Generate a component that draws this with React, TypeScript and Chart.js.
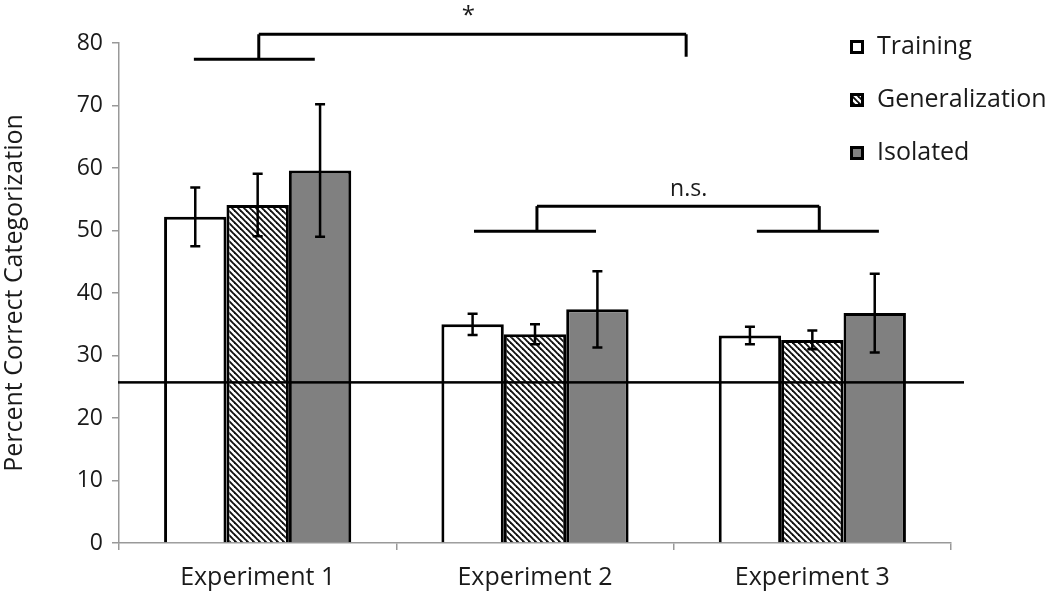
import React, { useEffect, useRef } from "react";
import { Chart, registerables } from "chart.js";

Chart.register(...registerables);

const categories = ["Experiment 1", "Experiment 2", "Experiment 3"];
const seriesLabels = ["Training", "Generalization", "Isolated"];
const training = [52.2, 35.0, 33.2];
const trainingErr = [4.7, 1.7, 1.4];
const generalization = [54.1, 33.4, 32.5];
const generalizationErr = [5.0, 1.6, 1.5];
const isolated = [59.6, 37.4, 36.8];
const isolatedErr = [10.6, 6.1, 6.3];
const chanceLevel = 25.7;
const yTicks = [0, 10, 20, 30, 40, 50, 60, 70, 80];

const FONT = "'Open Sans', 'Noto Sans', sans-serif";
const TEXT = "#1a1a1a";

function makeHatch(): CanvasPattern | string {
  const s = 6;
  const c = document.createElement("canvas");
  c.width = s;
  c.height = s;
  const g = c.getContext("2d");
  if (!g) return "#999";
  g.fillStyle = "#ffffff";
  g.fillRect(0, 0, s, s);
  g.strokeStyle = "#111";
  g.lineWidth = 1.9;
  for (let k = -1; k <= 1; k++) {
    g.beginPath();
    g.moveTo(k * s - 1, -1);
    g.lineTo(k * s + s + 1, s + 1);
    g.stroke();
  }
  const p = g.createPattern(c, "repeat");
  return p || "#999";
}

export default function App() {
  const ref = useRef<HTMLCanvasElement | null>(null);

  useEffect(() => {
    if (!ref.current) return;
    const hatch = makeHatch();
    const fills: any[] = ["#ffffff", hatch, "#808080"];
    const errs = [trainingErr, generalizationErr, isolatedErr];

    const overlay = {
      id: "overlay",
      afterDraw(chart: any) {
        const ctx = chart.ctx;
        const xs = chart.scales.x;
        const ys = chart.scales.y;
        const cw = xs.getPixelForValue(1) - xs.getPixelForValue(0);
        const X = (v: number) => xs.getPixelForValue(0) + v * cw;
        const Y = (v: number) => ys.getPixelForValue(v);
        ctx.save();
        // error bars
        ctx.strokeStyle = "#000";
        ctx.lineWidth = 2.5;
        chart.data.datasets.forEach((ds: any, di: number) => {
          const meta = chart.getDatasetMeta(di);
          meta.data.forEach((el: any, i: number) => {
            const v = ds.data[i];
            const e = errs[di][i];
            const x = el.x;
            const yt = Y(v + e);
            const yb = Y(v - e);
            ctx.beginPath();
            ctx.moveTo(x, yt);
            ctx.lineTo(x, yb);
            ctx.moveTo(x - 5, yt);
            ctx.lineTo(x + 5, yt);
            ctx.moveTo(x - 5, yb);
            ctx.lineTo(x + 5, yb);
            ctx.stroke();
          });
        });
        // chance line
        const cy = Y(chanceLevel);
        const left = Math.min(xs.left, ys.right, chart.chartArea.left) - 1;
        ctx.fillStyle = "#000";
        ctx.fillRect(left, cy - 1.25, xs.right + 13 - left, 2.5);
        // brackets
        ctx.lineWidth = 3;
        ctx.lineCap = "butt";
        const seg = (x1: number, y1: number, x2: number, y2: number) => {
          ctx.beginPath();
          ctx.moveTo(X(x1), Y(y1));
          ctx.lineTo(X(x2), Y(y2));
          ctx.stroke();
        };
        // top bracket (*)
        seg(-0.23, 77.4, 0.206, 77.4);
        seg(0.004, 77.4, 0.004, 81.4);
        seg(0.004, 81.4, 1.545, 81.4);
        seg(1.545, 81.4, 1.545, 77.8);
        // n.s. bracket
        seg(0.78, 49.9, 1.22, 49.9);
        seg(1.007, 49.9, 1.007, 53.9);
        seg(1.007, 53.9, 2.025, 53.9);
        seg(2.025, 53.9, 2.025, 49.9);
        seg(1.8, 49.9, 2.24, 49.9);
        // labels
        ctx.fillStyle = TEXT;
        ctx.textAlign = "center";
        ctx.textBaseline = "middle";
        ctx.font = `24px ${FONT}`;
        ctx.fillText("*", X(0.76), Y(84.3));
        ctx.font = `23px ${FONT}`;
        ctx.fillText("n.s.", X(1.554), Y(56.6));
        // legend
        const lx = 850;
        const rows = [47, 100, 153];
        ctx.textAlign = "left";
        ctx.font = `25px ${FONT}`;
        seriesLabels.forEach((lab, i) => {
          const ry = rows[i];
          ctx.fillStyle = fills[i];
          ctx.fillRect(lx, ry - 7, 14, 14);
          ctx.strokeStyle = "#000";
          ctx.lineWidth = 3;
          ctx.strokeRect(lx + 1.5, ry - 5.5, 11, 11);
          ctx.fillStyle = TEXT;
          ctx.fillText(lab, lx + 27, ry);
        });
        ctx.restore();
      },
    };

    const chart = new Chart(ref.current, {
      type: "bar",
      data: {
        labels: categories,
        datasets: [
          { label: seriesLabels[0], data: training, backgroundColor: fills[0], borderColor: "#000", borderWidth: 3 },
          { label: seriesLabels[1], data: generalization, backgroundColor: fills[1], borderColor: "#000", borderWidth: 3 },
          { label: seriesLabels[2], data: isolated, backgroundColor: fills[2], borderColor: "#000", borderWidth: 3 },
        ],
      },
      options: {
        responsive: false,
        animation: false,
        layout: { padding: { top: 43, right: 99, left: 0, bottom: 0 } },
        plugins: { legend: { display: false }, tooltip: { enabled: false } },
        datasets: { bar: { categoryPercentage: 0.675, barPercentage: 1.0 } },
        scales: {
          x: {
            grid: { display: true, offset: true, drawOnChartArea: false, drawTicks: true, tickLength: 7, color: "#999", lineWidth: 1.5 },
            border: { display: true, color: "#999", width: 1.5 },
            ticks: { color: TEXT, font: { family: FONT, size: 25 }, padding: 13 },
            afterFit: (s: any) => { s.height = 57; },
          },
          y: {
            min: 0,
            max: 80,
            afterBuildTicks: (s: any) => { s.ticks = yTicks.map((v) => ({ value: v })); },
            grid: { display: true, drawOnChartArea: false, drawTicks: true, tickLength: 7, color: "#999", lineWidth: 1.5 },
            border: { display: true, color: "#999", width: 1.5 },
            ticks: { color: TEXT, font: { family: FONT, size: 23 }, padding: 9 },
            title: { display: true, text: "Percent Correct Categorization", color: TEXT, font: { family: FONT, size: 25 }, padding: { top: 0, bottom: 4 } },
            afterFit: (s: any) => { s.width = 119; },
          },
        },
      },
      plugins: [overlay],
    } as any);
    return () => chart.destroy();
  }, []);

  return (
    <div style={{ position: "absolute", left: 0, top: 0, width: 1050, height: 600, background: "#fff" }}>
      <canvas ref={ref} width={1050} height={600} style={{ display: "block" }} />
    </div>
  );
}
